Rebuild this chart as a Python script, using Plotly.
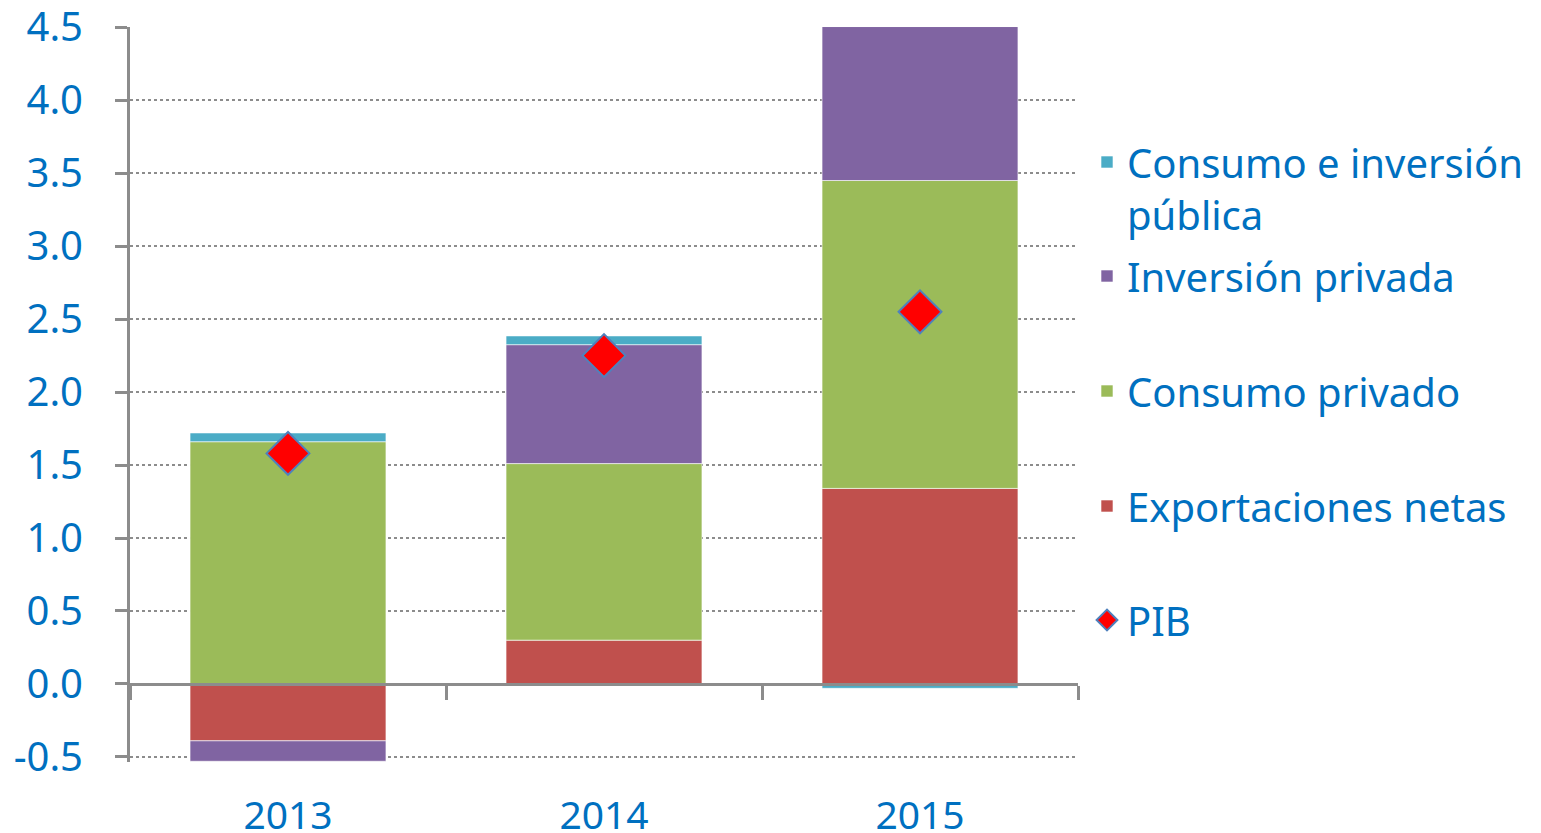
import plotly.graph_objects as go

years = ["2013", "2014", "2015"]
export_netas = [-0.39, 0.30, 1.34]
consumo_priv = [1.66, 1.21, 2.11]
inversion_priv = [-0.14, 0.815, 1.055]
publico = [0.06, 0.06, -0.03]
pib = [1.58, 2.25, 2.55]

ytick_vals = [-0.5, 0.0, 0.5, 1.0, 1.5, 2.0, 2.5, 3.0, 3.5, 4.0, 4.5]
ytick_text = ["-0.5", "0.0", "0.5", "1.0", "1.5", "2.0", "2.5", "3.0", "3.5", "4.0", "4.5"]

FONT = "Noto Sans"
BLUE = "#0070C0"
GRAY = "#8C8C8C"
FS = 40

ymin, ymax = -0.535, 4.502
W, H = 1541, 833
L, T, R = 130, 27, 1541 - 1078
B = 71
ph = H - T - B
zero_pos = (0 - ymin) / (ymax - ymin)

def ypap(py):
    return (H - B - py) / ph

fig = go.Figure()

series = [
    ("Exportaciones netas", export_netas, "#C0504D", "legend4", 506),
    ("Consumo privado", consumo_priv, "#9BBB59", "legend3", 391),
    ("Inversión privada", inversion_priv, "#8064A2", "legend2", 276),
    ("Consumo e inversión<br>pública", publico, "#4BACC6", "legend", 188),
]

fig.add_trace(go.Scatter(
    x=years, y=pib, mode="markers", name="PIB",
    marker=dict(symbol="diamond", size=33, color="#FF0000",
                line=dict(color="#4F81BD", width=2)),
    legend="legend5",
))

for name, vals, col, lg, _ in series:
    fig.add_trace(go.Bar(
        x=years, y=vals, name=name,
        marker=dict(color=col, line=dict(color="rgba(255,255,255,0.6)", width=1)),
        legend=lg,
    ))

# helper trace for the zero-crossing category axis
fig.add_trace(go.Scatter(x=years, y=[None] * 3, xaxis="x2", showlegend=False,
                         hoverinfo="skip", mode="markers"))

legend_common = dict(
    font=dict(family=FONT, size=FS, color=BLUE),
    bgcolor="rgba(0,0,0,0)", borderwidth=0,
    x=(1087 - L) / (W - L - R), xanchor="left", valign="top",
)
lay_leg = {}
for name, vals, col, lg, py in series:
    lay_leg[lg] = dict(legend_common, y=ypap(py), yanchor="middle")
lay_leg["legend5"] = dict(legend_common, y=ypap(620), yanchor="middle")

fig.update_layout(
    width=W, height=H,
    margin=dict(l=L, r=R, t=T, b=B, autoexpand=False),
    plot_bgcolor="white", paper_bgcolor="white",
    barmode="relative", bargap=0.38,
    font=dict(family=FONT, size=FS, color=BLUE),
    showlegend=True,
    xaxis=dict(
        type="category", categoryarray=years, range=[-0.5, 2.5],
        showline=False, showgrid=False, ticks="", automargin=False,
        tickfont=dict(family=FONT, size=39, color=BLUE),
        ticklabelstandoff=27, ticklabeloverflow="allow",
    ),
    xaxis2=dict(
        type="category", categoryarray=years, range=[-0.5, 2.5],
        overlaying="x", anchor="free", position=zero_pos, side="bottom",
        showline=True, linecolor=GRAY, linewidth=3, automargin=False,
        tickson="boundaries", ticks="outside", ticklen=14, tickwidth=3,
        tickcolor=GRAY, showticklabels=False, showgrid=False,
    ),
    yaxis=dict(
        range=[ymin, ymax], tickvals=ytick_vals, ticktext=ytick_text,
        showline=True, linecolor=GRAY, linewidth=3, automargin=False,
        ticks="outside", ticklen=12, tickwidth=3, tickcolor=GRAY,
        showgrid=True, gridcolor=GRAY, griddash="dot", gridwidth=2,
        zeroline=False,
        tickfont=dict(family=FONT, size=FS, color=BLUE),
        ticklabelstandoff=24, ticklabeloverflow="allow",
    ),
    **lay_leg,
)

fig.write_html("out.html", config={"displayModeBar": False},
               post_script="document.body.style.margin='0';")
